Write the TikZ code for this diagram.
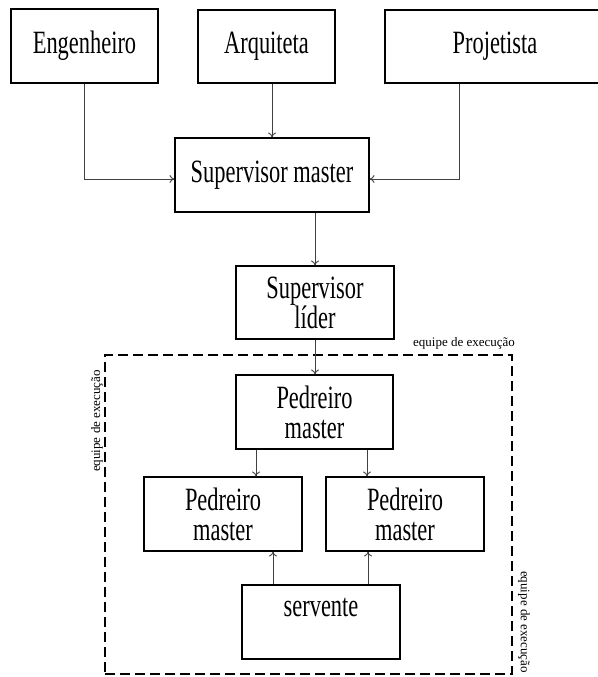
\documentclass[tikz,border=0pt]{standalone}
\usepackage{fontspec}
\setmainfont{Liberation Serif}[FakeStretch=0.69]
\newfontfamily\tagfont{Liberation Serif}
\usetikzlibrary{arrows.meta}
\begin{document}
\begin{tikzpicture}[x=1pt,y=-1pt,
  box/.style={draw=black,line width=1.1pt,inner sep=0pt,align=center,
    font=\fontsize{32.5}{30}\selectfont},
  arr/.style={draw=black!75,line width=0.9pt,-{To[length=5pt,width=8pt]}},
  frame/.style={draw=black,line width=2.6pt,dash pattern=on 10pt off 5pt,
    inner sep=0pt},
  tag/.style={inner sep=0pt,font=\tagfont\fontsize{13}{15}\selectfont}]
\useasboundingbox (0,0) rectangle (597,677);

% top row
\node[box,minimum width=147pt,minimum height=74pt] (eng) at (84.5,46) {Engenheiro};
\node[box,minimum width=137pt,minimum height=73pt] (arq) at (266.5,46.5) {Arquiteta};
\node[box,minimum width=220pt,minimum height=73pt] (proj) at (495,46.5) {Projetista};

% supervisors
\node[box,minimum width=194pt,minimum height=74pt] (sup) at (272,175) {Supervisor master};
\node[box,minimum width=158pt,minimum height=73pt] (lid) at (315,302.5) {Supervisor\\líder};

% execution team
\node[frame,minimum width=407pt,minimum height=319pt] (team) at (308.5,514.5) {};
\node[tag] (tagtop) at (464,343) {equipe de execução};
\node[tag,rotate=90] (tagleft) at (97,421) {equipe de execução};
\node[tag,rotate=-90] (tagright) at (524,622) {equipe de execução};

\node[box,minimum width=157pt,minimum height=74pt] (ped) at (314.5,412) {Pedreiro\\master};
\node[box,minimum width=158pt,minimum height=74pt] (pl) at (223,514) {Pedreiro\\master};
\node[box,minimum width=158pt,minimum height=74pt] (pr) at (405,514) {Pedreiro\\master};
\node[box,minimum width=158pt,minimum height=74pt] (serv) at (321,622) {servente\\\mbox{}};

% connectors
\draw[arr] (eng.south) |- ([yshift=-4pt]sup.west);
\draw[arr] (sup.north |- arq.south) -- (sup.north);
\draw[arr] ([xshift=-36pt]proj.south) |- ([yshift=-4pt]sup.east);
\draw[arr] (lid.north |- sup.south) -- (lid.north);
\draw[arr] (lid.south) -- (lid.south |- ped.north);
\draw[arr] ([xshift=-58.5pt]ped.south) -- ([xshift=-58.5pt]ped.south |- pl.north);
\draw[arr] ([xshift=52.5pt]ped.south) -- ([xshift=52.5pt]ped.south |- pr.north);
\draw[arr] ([xshift=-48pt]serv.north) -- ([xshift=-48pt]serv.north |- pl.south);
\draw[arr] ([xshift=47pt]serv.north) -- ([xshift=47pt]serv.north |- pr.south);
\end{tikzpicture}
\end{document}
